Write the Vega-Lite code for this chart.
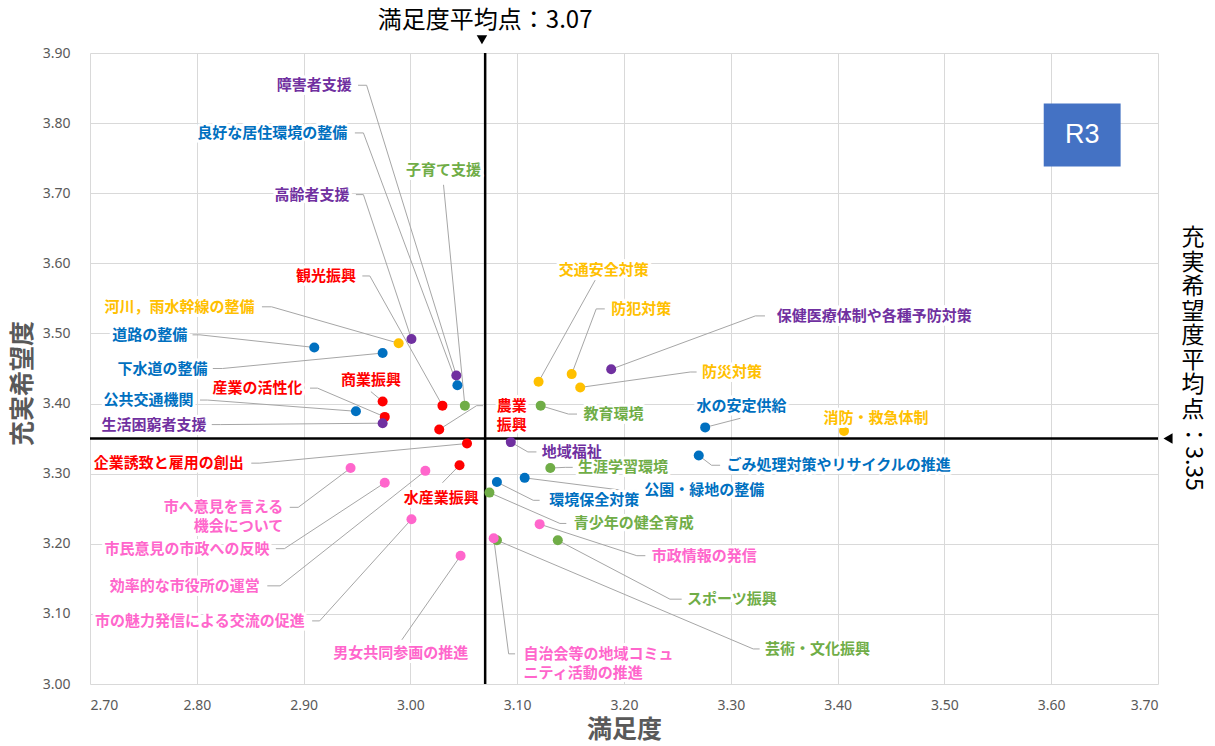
{
  "$schema": "https://vega.github.io/schema/vega-lite/v6.json",
  "width": 1068,
  "height": 631,
  "autosize": {"type": "none"},
  "padding": {"left": 90, "top": 53, "right": 57, "bottom": 62},
  "background": "white",
  "config": {
    "view": {"stroke": null},
    "axis": {"ticks": false, "domain": false, "grid": true, "gridColor": "#D9D9D9", "gridWidth": 1,
      "labelFont": "Noto Sans", "labelFontSize": 14, "labelColor": "#595959",
      "titleFont": "Noto Sans CJK JP", "titleFontSize": 25, "titleFontWeight": "bold", "titleColor": "#595959"}
  },
  "datasets": {
    "items": [
      {"item":"障害者支援","group":"福祉","sat":3.043,"hope":3.440,"tx":2.945,"ty":3.854,"align":"right","ex":2.959,"ey":3.854,"sx":2.951},
      {"item":"良好な居住環境の整備","group":"基盤","sat":3.044,"hope":3.426,"tx":2.941,"ty":3.786,"align":"right","ex":2.956,"ey":3.786,"sx":2.948},
      {"item":"高齢者支援","group":"福祉","sat":3.001,"hope":3.492,"tx":2.943,"ty":3.698,"align":"right","ex":2.956,"ey":3.698,"sx":2.949},
      {"item":"子育て支援","group":"教育","sat":3.051,"hope":3.397,"tx":3.031,"ty":3.733,"align":"center","ex":3.031,"ey":3.712,"sx":null},
      {"item":"観光振興","group":"産業","sat":3.030,"hope":3.397,"tx":2.949,"ty":3.582,"align":"right","ex":2.962,"ey":3.582,"sx":2.955},
      {"item":"河川，雨水幹線の整備","group":"安全","sat":2.989,"hope":3.486,"tx":2.854,"ty":3.538,"align":"right","ex":2.870,"ey":3.538,"sx":2.861},
      {"item":"道路の整備","group":"基盤","sat":2.910,"hope":3.480,"tx":2.791,"ty":3.498,"align":"right","ex":2.803,"ey":3.498,"sx":2.796},
      {"item":"下水道の整備","group":"基盤","sat":2.974,"hope":3.472,"tx":2.810,"ty":3.450,"align":"right","ex":2.824,"ey":3.450,"sx":2.815},
      {"item":"商業振興","group":"産業","sat":2.974,"hope":3.403,"tx":2.963,"ty":3.434,"align":"center","ex":2.963,"ey":3.417,"sx":null},
      {"item":"産業の活性化","group":"産業","sat":2.976,"hope":3.381,"tx":2.899,"ty":3.422,"align":"right","ex":2.913,"ey":3.422,"sx":2.906},
      {"item":"公共交通機関","group":"基盤","sat":2.949,"hope":3.389,"tx":2.797,"ty":3.405,"align":"right","ex":2.810,"ey":3.405,"sx":2.803},
      {"item":"生活困窮者支援","group":"福祉","sat":2.974,"hope":3.372,"tx":2.809,"ty":3.370,"align":"right","ex":2.822,"ey":3.370,"sx":2.814},
      {"item":"企業誘致と雇用の創出","group":"産業","sat":3.053,"hope":3.343,"tx":2.844,"ty":3.315,"align":"right","ex":2.859,"ey":3.315,"sx":2.851},
      {"item":"水産業振興","group":"産業","sat":3.046,"hope":3.312,"tx":3.029,"ty":3.266,"align":"center","ex":3.030,"ey":3.287,"sx":null},
      {"item":"市へ意見を言える\n機会について","group":"行政","sat":2.944,"hope":3.308,"tx":2.881,"ty":3.252,"align":"right","ex":2.895,"ey":3.252,"sx":2.887},
      {"item":"市民意見の市政への反映","group":"行政","sat":2.976,"hope":3.287,"tx":2.868,"ty":3.193,"align":"right","ex":2.882,"ey":3.193,"sx":2.874},
      {"item":"効率的な市役所の運営","group":"行政","sat":3.014,"hope":3.304,"tx":2.859,"ty":3.140,"align":"right","ex":2.878,"ey":3.140,"sx":2.866},
      {"item":"市の魅力発信による交流の促進","group":"行政","sat":3.001,"hope":3.235,"tx":2.901,"ty":3.090,"align":"right","ex":2.915,"ey":3.090,"sx":2.908},
      {"item":"男女共同参画の推進","group":"行政","sat":3.047,"hope":3.183,"tx":2.991,"ty":3.044,"align":"center","ex":2.992,"ey":3.063,"sx":null},
      {"item":"地域福祉","group":"福祉","sat":3.094,"hope":3.345,"tx":3.123,"ty":3.331,"align":"left","ex":3.110,"ey":3.331,"sx":3.118},
      {"item":"生涯学習環境","group":"教育","sat":3.131,"hope":3.308,"tx":3.157,"ty":3.309,"align":"left","ex":3.145,"ey":3.309,"sx":3.152},
      {"item":"ごみ処理対策やリサイクルの推進","group":"基盤","sat":3.270,"hope":3.326,"tx":3.296,"ty":3.312,"align":"left","ex":3.282,"ey":3.312,"sx":3.290},
      {"item":"公園・緑地の整備","group":"基盤","sat":3.107,"hope":3.294,"tx":3.219,"ty":3.276,"align":"left","ex":3.200,"ey":3.276,"sx":3.212},
      {"item":"環境保全対策","group":"基盤","sat":3.081,"hope":3.288,"tx":3.130,"ty":3.262,"align":"left","ex":3.115,"ey":3.262,"sx":3.121},
      {"item":"青少年の健全育成","group":"教育","sat":3.074,"hope":3.273,"tx":3.153,"ty":3.229,"align":"left","ex":3.140,"ey":3.229,"sx":3.146},
      {"item":"市政情報の発信","group":"行政","sat":3.121,"hope":3.228,"tx":3.226,"ty":3.183,"align":"left","ex":3.212,"ey":3.183,"sx":3.220},
      {"item":"スポーツ振興","group":"教育","sat":3.138,"hope":3.205,"tx":3.259,"ty":3.121,"align":"left","ex":3.243,"ey":3.121,"sx":3.254},
      {"item":"芸術・文化振興","group":"教育","sat":3.081,"hope":3.205,"tx":3.332,"ty":3.050,"align":"left","ex":3.321,"ey":3.050,"sx":3.327},
      {"item":"自治会等の地域コミュ\nニティ活動の推進","group":"行政","sat":3.078,"hope":3.208,"tx":3.106,"ty":3.043,"align":"left","ex":3.092,"ey":3.043,"sx":3.098},
      {"item":"交通安全対策","group":"安全","sat":3.120,"hope":3.431,"tx":3.181,"ty":3.590,"align":"center","ex":3.173,"ey":3.576,"sx":null},
      {"item":"防犯対策","group":"安全","sat":3.151,"hope":3.442,"tx":3.188,"ty":3.535,"align":"left","ex":3.174,"ey":3.535,"sx":3.182},
      {"item":"保健医療体制や各種予防対策","group":"福祉","sat":3.188,"hope":3.449,"tx":3.343,"ty":3.525,"align":"left","ex":3.323,"ey":3.525,"sx":3.332},
      {"item":"防災対策","group":"安全","sat":3.159,"hope":3.423,"tx":3.273,"ty":3.445,"align":"left","ex":3.262,"ey":3.445,"sx":3.268},
      {"item":"水の安定供給","group":"基盤","sat":3.276,"hope":3.366,"tx":3.310,"ty":3.396,"align":"center","ex":3.309,"ey":3.379,"sx":null},
      {"item":"消防・救急体制","group":"安全","sat":3.406,"hope":3.361,"tx":3.436,"ty":3.380,"align":"center","ex":null,"ey":null,"sx":null},
      {"item":"農業\n振興","group":"産業","sat":3.027,"hope":3.363,"tx":3.095,"ty":3.397,"align":"center","ex":3.062,"ey":3.397,"sx":3.068},
      {"item":"教育環境","group":"教育","sat":3.122,"hope":3.397,"tx":3.162,"ty":3.385,"align":"left","ex":3.148,"ey":3.385,"sx":3.156}
    ],
    "vlabel": [
      {"ch":"充","vy":3.636},{"ch":"実","vy":3.601},{"ch":"希","vy":3.566},{"ch":"望","vy":3.531},
      {"ch":"度","vy":3.496},{"ch":"平","vy":3.461},{"ch":"均","vy":3.426},{"ch":"点","vy":3.391}
    ]
  },
  "layer": [
    {
      "data": {"name": "items"},
      "mark": {"type": "point", "filled": true, "opacity": 0},
      "encoding": {
        "x": {"field": "sat", "type": "quantitative", "title": "満足度", "scale": {"domain": [2.7, 3.7], "nice": false, "zero": false},
          "axis": {"values": [2.7, 2.8, 2.9, 3.0, 3.1, 3.2, 3.3, 3.4, 3.5, 3.6, 3.7], "format": ".2f", "labelPadding": 14, "titlePadding": 5}},
        "y": {"field": "hope", "type": "quantitative", "title": "充実希望度", "scale": {"domain": [3.0, 3.9], "nice": false, "zero": false},
          "axis": {"values": [3.0, 3.1, 3.2, 3.3, 3.4, 3.5, 3.6, 3.7, 3.8, 3.9], "format": ".2f", "labelPadding": 20, "titlePadding": 7, "titleY": 330}}
      }
    },
    {
      "data": {"name": "items"},
      "transform": [{"filter": "datum.ex != null"}],
      "mark": {"type": "rule", "color": "#A6A6A6", "strokeWidth": 1},
      "encoding": {
        "x": {"field": "ex", "type": "quantitative", "title": "満足度", "scale": {"domain": [2.7, 3.7], "nice": false, "zero": false}},
        "y": {"field": "ey", "type": "quantitative", "title": "充実希望度", "scale": {"domain": [3.0, 3.9], "nice": false, "zero": false}},
        "x2": {"field": "sat"},
        "y2": {"field": "hope"}
      }
    },
    {
      "data": {"name": "items"},
      "transform": [{"filter": "datum.sx != null"}],
      "mark": {"type": "rule", "color": "#A6A6A6", "strokeWidth": 1},
      "encoding": {
        "x": {"field": "sx", "type": "quantitative", "title": "満足度", "scale": {"domain": [2.7, 3.7], "nice": false, "zero": false}},
        "y": {"field": "ey", "type": "quantitative", "title": "充実希望度", "scale": {"domain": [3.0, 3.9], "nice": false, "zero": false}},
        "x2": {"field": "ex"}
      }
    },
    {
      "data": {"values": [{}]},
      "mark": {"type": "rule", "color": "#000000", "strokeWidth": 2.5},
      "encoding": {
        "x": {"datum": 3.07, "type": "quantitative", "title": "満足度", "scale": {"domain": [2.7, 3.7], "nice": false, "zero": false}}
      }
    },
    {
      "data": {"values": [{}]},
      "mark": {"type": "rule", "color": "#000000", "strokeWidth": 2.5},
      "encoding": {
        "y": {"datum": 3.35, "type": "quantitative", "title": "充実希望度", "scale": {"domain": [3.0, 3.9], "nice": false, "zero": false}}
      }
    },
    {
      "data": {"name": "items"},
      "mark": {"type": "point", "filled": true, "opacity": 1, "size": 100, "shape": "circle"},
      "encoding": {
        "x": {"field": "sat", "type": "quantitative", "title": "満足度", "scale": {"domain": [2.7, 3.7], "nice": false, "zero": false}},
        "y": {"field": "hope", "type": "quantitative", "title": "充実希望度", "scale": {"domain": [3.0, 3.9], "nice": false, "zero": false}},
        "color": {"field": "group", "type": "nominal", "legend": null,
          "scale": {"domain": ["福祉", "基盤", "安全", "産業", "教育", "行政"], "range": ["#7030A0", "#0070C0", "#FFC000", "#FF0000", "#70AD47", "#FF66CC"]}}
      }
    },
    {
      "data": {"name": "items"},
      "transform": [{"filter": "datum.align == 'right'"}],
      "mark": {"type": "text", "align": "right", "baseline": "middle", "font": "Noto Sans CJK JP", "fontWeight": "bold", "fontSize": 15, "lineBreak": "\n", "lineHeight": 19, "fill": "white", "stroke": "white", "strokeWidth": 6, "strokeJoin": "round"},
      "encoding": {
        "x": {"field": "tx", "type": "quantitative", "title": "満足度", "scale": {"domain": [2.7, 3.7], "nice": false, "zero": false}},
        "y": {"field": "ty", "type": "quantitative", "title": "充実希望度", "scale": {"domain": [3.0, 3.9], "nice": false, "zero": false}},
        "text": {"field": "item"}
      }
    },
    {
      "data": {"name": "items"},
      "transform": [{"filter": "datum.align == 'left'"}],
      "mark": {"type": "text", "align": "left", "baseline": "middle", "font": "Noto Sans CJK JP", "fontWeight": "bold", "fontSize": 15, "lineBreak": "\n", "lineHeight": 19, "fill": "white", "stroke": "white", "strokeWidth": 6, "strokeJoin": "round"},
      "encoding": {
        "x": {"field": "tx", "type": "quantitative", "title": "満足度", "scale": {"domain": [2.7, 3.7], "nice": false, "zero": false}},
        "y": {"field": "ty", "type": "quantitative", "title": "充実希望度", "scale": {"domain": [3.0, 3.9], "nice": false, "zero": false}},
        "text": {"field": "item"}
      }
    },
    {
      "data": {"name": "items"},
      "transform": [{"filter": "datum.align == 'center'"}],
      "mark": {"type": "text", "align": "center", "baseline": "middle", "font": "Noto Sans CJK JP", "fontWeight": "bold", "fontSize": 15, "lineBreak": "\n", "lineHeight": 19, "fill": "white", "stroke": "white", "strokeWidth": 6, "strokeJoin": "round"},
      "encoding": {
        "x": {"field": "tx", "type": "quantitative", "title": "満足度", "scale": {"domain": [2.7, 3.7], "nice": false, "zero": false}},
        "y": {"field": "ty", "type": "quantitative", "title": "充実希望度", "scale": {"domain": [3.0, 3.9], "nice": false, "zero": false}},
        "text": {"field": "item"}
      }
    },
    {
      "data": {"name": "items"},
      "transform": [{"filter": "datum.align == 'right'"}],
      "mark": {"type": "text", "align": "right", "baseline": "middle", "font": "Noto Sans CJK JP", "fontWeight": "bold", "fontSize": 15, "lineBreak": "\n", "lineHeight": 19},
      "encoding": {
        "x": {"field": "tx", "type": "quantitative", "title": "満足度", "scale": {"domain": [2.7, 3.7], "nice": false, "zero": false}},
        "y": {"field": "ty", "type": "quantitative", "title": "充実希望度", "scale": {"domain": [3.0, 3.9], "nice": false, "zero": false}},
        "text": {"field": "item"},
        "color": {"field": "group", "type": "nominal", "legend": null}
      }
    },
    {
      "data": {"name": "items"},
      "transform": [{"filter": "datum.align == 'left'"}],
      "mark": {"type": "text", "align": "left", "baseline": "middle", "font": "Noto Sans CJK JP", "fontWeight": "bold", "fontSize": 15, "lineBreak": "\n", "lineHeight": 19},
      "encoding": {
        "x": {"field": "tx", "type": "quantitative", "title": "満足度", "scale": {"domain": [2.7, 3.7], "nice": false, "zero": false}},
        "y": {"field": "ty", "type": "quantitative", "title": "充実希望度", "scale": {"domain": [3.0, 3.9], "nice": false, "zero": false}},
        "text": {"field": "item"},
        "color": {"field": "group", "type": "nominal", "legend": null}
      }
    },
    {
      "data": {"name": "items"},
      "transform": [{"filter": "datum.align == 'center'"}],
      "mark": {"type": "text", "align": "center", "baseline": "middle", "font": "Noto Sans CJK JP", "fontWeight": "bold", "fontSize": 15, "lineBreak": "\n", "lineHeight": 19},
      "encoding": {
        "x": {"field": "tx", "type": "quantitative", "title": "満足度", "scale": {"domain": [2.7, 3.7], "nice": false, "zero": false}},
        "y": {"field": "ty", "type": "quantitative", "title": "充実希望度", "scale": {"domain": [3.0, 3.9], "nice": false, "zero": false}},
        "text": {"field": "item"},
        "color": {"field": "group", "type": "nominal", "legend": null}
      }
    },
    {
      "data": {"values": [{}]},
      "mark": {"type": "text", "text": "満足度平均点：3.07", "font": "Noto Sans CJK JP", "fontSize": 24, "color": "#000000", "align": "center", "baseline": "middle", "dy": -32},
      "encoding": {
        "x": {"datum": 3.07, "type": "quantitative", "title": "満足度", "scale": {"domain": [2.7, 3.7], "nice": false, "zero": false}},
        "y": {"datum": 3.9, "type": "quantitative", "title": "充実希望度", "scale": {"domain": [3.0, 3.9], "nice": false, "zero": false}}
      }
    },
    {
      "data": {"values": [{}]},
      "mark": {"type": "point", "shape": "triangle-down", "filled": true, "opacity": 1, "color": "#000000", "size": 110},
      "encoding": {
        "x": {"datum": 3.067, "type": "quantitative", "title": "満足度", "scale": {"domain": [2.7, 3.7], "nice": false, "zero": false}},
        "y": {"datum": 3.919, "type": "quantitative", "title": "充実希望度", "scale": {"domain": [3.0, 3.9], "nice": false, "zero": false}}
      }
    },
    {
      "data": {"values": [{}]},
      "mark": {"type": "point", "shape": "triangle-left", "filled": true, "opacity": 1, "color": "#000000", "size": 110},
      "encoding": {
        "x": {"datum": 3.7094, "type": "quantitative", "title": "満足度", "scale": {"domain": [2.7, 3.7], "nice": false, "zero": false}},
        "y": {"datum": 3.35, "type": "quantitative", "title": "充実希望度", "scale": {"domain": [3.0, 3.9], "nice": false, "zero": false}}
      }
    },
    {
      "data": {"name": "vlabel"},
      "mark": {"type": "text", "font": "Noto Sans CJK JP", "fontSize": 23, "color": "#000000", "align": "center", "baseline": "middle"},
      "encoding": {
        "x": {"datum": 3.7328, "type": "quantitative", "title": "満足度", "scale": {"domain": [2.7, 3.7], "nice": false, "zero": false}},
        "y": {"field": "vy", "type": "quantitative", "title": "充実希望度", "scale": {"domain": [3.0, 3.9], "nice": false, "zero": false}},
        "text": {"field": "ch"}
      }
    },
    {
      "data": {"values": [{}]},
      "mark": {"type": "text", "text": "：3.35", "font": "Noto Sans CJK JP", "fontSize": 23, "color": "#000000", "align": "left", "baseline": "middle", "angle": 90},
      "encoding": {
        "x": {"datum": 3.7328, "type": "quantitative", "title": "満足度", "scale": {"domain": [2.7, 3.7], "nice": false, "zero": false}},
        "y": {"datum": 3.372, "type": "quantitative", "title": "充実希望度", "scale": {"domain": [3.0, 3.9], "nice": false, "zero": false}}
      }
    },
    {
      "data": {"values": [{}]},
      "mark": {"type": "rect", "color": "#4472C4"},
      "encoding": {
        "x": {"datum": 3.593, "type": "quantitative", "title": "満足度", "scale": {"domain": [2.7, 3.7], "nice": false, "zero": false}},
        "x2": {"datum": 3.665},
        "y": {"datum": 3.828, "type": "quantitative", "title": "充実希望度", "scale": {"domain": [3.0, 3.9], "nice": false, "zero": false}},
        "y2": {"datum": 3.738}
      }
    },
    {
      "data": {"values": [{}]},
      "mark": {"type": "text", "text": "R3", "font": "Liberation Sans", "fontSize": 27, "color": "#FFFFFF", "align": "center", "baseline": "middle"},
      "encoding": {
        "x": {"datum": 3.629, "type": "quantitative", "title": "満足度", "scale": {"domain": [2.7, 3.7], "nice": false, "zero": false}},
        "y": {"datum": 3.783, "type": "quantitative", "title": "充実希望度", "scale": {"domain": [3.0, 3.9], "nice": false, "zero": false}}
      }
    }
  ]
}
